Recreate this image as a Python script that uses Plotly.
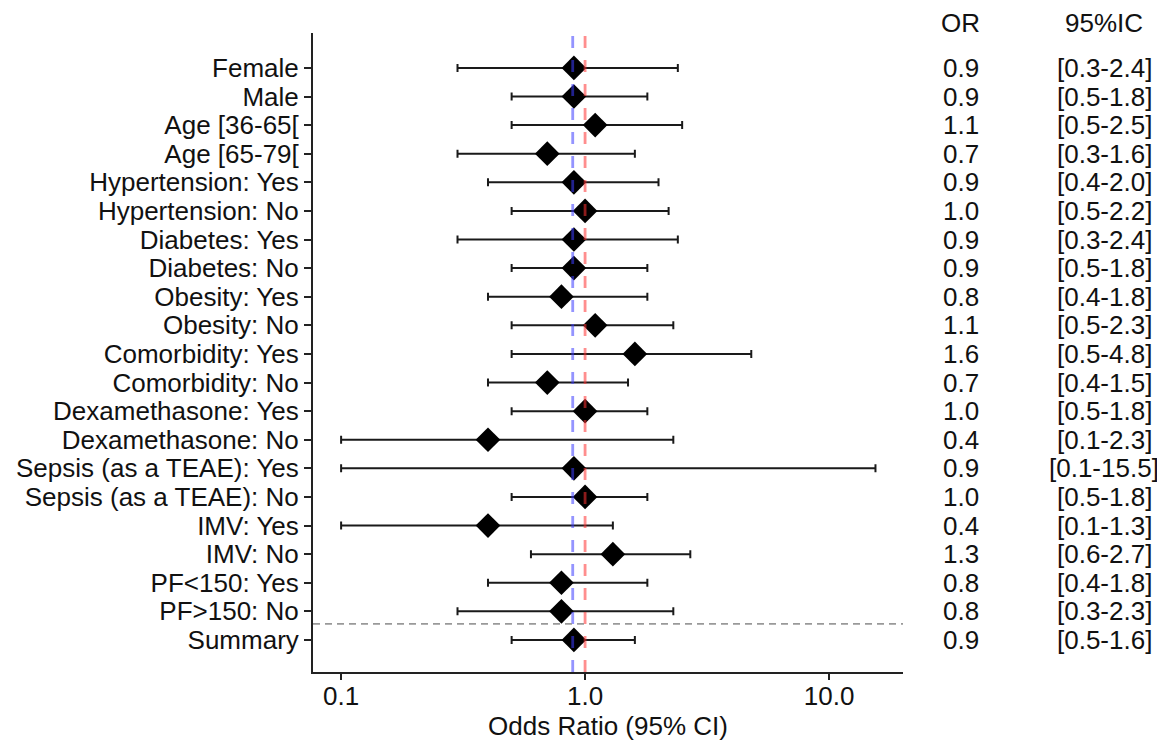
import math
import plotly.graph_objects as go

labels = ["Female", "Male", "Age [36-65[", "Age [65-79[", "Hypertension: Yes",
          "Hypertension: No", "Diabetes: Yes", "Diabetes: No", "Obesity: Yes",
          "Obesity: No", "Comorbidity: Yes", "Comorbidity: No", "Dexamethasone: Yes",
          "Dexamethasone: No", "Sepsis (as a TEAE): Yes", "Sepsis (as a TEAE): No",
          "IMV: Yes", "IMV: No", "PF<150: Yes", "PF>150: No", "Summary"]
odds = [0.9, 0.9, 1.1, 0.7, 0.9, 1.0, 0.9, 0.9, 0.8, 1.1, 1.6, 0.7, 1.0, 0.4,
        0.9, 1.0, 0.4, 1.3, 0.8, 0.8, 0.9]
lower = [0.3, 0.5, 0.5, 0.3, 0.4, 0.5, 0.3, 0.5, 0.4, 0.5, 0.5, 0.4, 0.5, 0.1,
         0.1, 0.5, 0.1, 0.6, 0.4, 0.3, 0.5]
upper = [2.4, 1.8, 2.5, 1.6, 2.0, 2.2, 2.4, 1.8, 1.8, 2.3, 4.8, 1.5, 1.8, 2.3,
         15.5, 1.8, 1.3, 2.7, 1.8, 2.3, 1.6]
or_text = ["0.9", "0.9", "1.1", "0.7", "0.9", "1.0", "0.9", "0.9", "0.8", "1.1",
           "1.6", "0.7", "1.0", "0.4", "0.9", "1.0", "0.4", "1.3", "0.8", "0.8", "0.9"]
ci_text = ["[0.3-2.4]", "[0.5-1.8]", "[0.5-2.5]", "[0.3-1.6]", "[0.4-2.0]",
           "[0.5-2.2]", "[0.3-2.4]", "[0.5-1.8]", "[0.4-1.8]", "[0.5-2.3]",
           "[0.5-4.8]", "[0.4-1.5]", "[0.5-1.8]", "[0.1-2.3]", "[0.1-15.5]",
           "[0.5-1.8]", "[0.1-1.3]", "[0.6-2.7]", "[0.4-1.8]", "[0.3-2.3]", "[0.5-1.6]"]
x_ticks = [0.1, 1.0, 10.0]
x_ticktext = ["0.1", "1.0", "10.0"]
summary_line = 0.89
null_line = 1.0

FONT = "Liberation Sans, Arial, sans-serif"
TXT = "#111111"
FS = 26

ypos = list(range(len(labels)))

fig = go.Figure()
fig.add_trace(go.Scatter(
    x=odds, y=ypos, mode="markers",
    marker=dict(symbol="diamond", size=19, color="black"),
    error_x=dict(type="data", symmetric=False,
                 array=[u - o for u, o in zip(upper, odds)],
                 arrayminus=[o - l for o, l in zip(odds, lower)],
                 color="#1a1a1a", thickness=2, width=4),
    showlegend=False, hoverinfo="skip"))

shapes = [
    dict(type="line", xref="x", yref="paper", x0=summary_line, x1=summary_line,
         y0=0, y1=1, line=dict(color="rgba(60,60,255,0.55)", width=2.8, dash="12px,12px"),
         layer="above"),
    dict(type="line", xref="x", yref="paper", x0=null_line, x1=null_line,
         y0=0, y1=1, line=dict(color="rgba(255,50,50,0.55)", width=2.8, dash="12px,12px"),
         layer="above"),
    dict(type="line", xref="paper", yref="y", x0=0, x1=1, y0=19.44, y1=19.44,
         line=dict(color="#999999", width=1.8, dash="7px,5px"), layer="above"),
]

annotations = []
OR_X = 1.098
CI_X = 1.3407
for i in ypos:
    annotations.append(dict(x=OR_X, y=i, xref="paper", yref="y", text=or_text[i],
                            showarrow=False, xanchor="center", yanchor="middle",
                            font=dict(family=FONT, size=FS, color=TXT)))
    annotations.append(dict(x=CI_X, y=i, xref="paper", yref="y", text=ci_text[i],
                            showarrow=False, xanchor="center", yanchor="middle",
                            font=dict(family=FONT, size=FS, color=TXT)))
annotations.append(dict(x=OR_X, y=1.0156, xref="paper", yref="paper", text="OR",
                        showarrow=False, xanchor="center", yanchor="middle",
                        font=dict(family=FONT, size=FS, color=TXT)))
annotations.append(dict(x=CI_X, y=1.0156, xref="paper", yref="paper", text="95%IC",
                        showarrow=False, xanchor="center", yanchor="middle",
                        font=dict(family=FONT, size=FS, color=TXT)))

# page body has an 8px margin, so the figure is 8px smaller and margins shifted
fig.update_layout(
    width=1157, height=739,
    margin=dict(l=305, r=262, t=25, b=75, pad=0, autoexpand=False),
    paper_bgcolor="white", plot_bgcolor="white",
    font=dict(family=FONT, size=FS, color=TXT),
    shapes=shapes, annotations=annotations,
    xaxis=dict(type="log", range=[math.log10(0.0767), math.log10(20.1)],
               tickvals=x_ticks, ticktext=x_ticktext, showgrid=False, zeroline=False,
               showline=True, linecolor="#222222", linewidth=2, automargin=False,
               ticks="outside", ticklen=6, tickwidth=2, tickcolor="#222222",
               ticklabelstandoff=-6,
               tickfont=dict(family=FONT, size=FS, color=TXT),
               title=dict(text="Odds Ratio (95% CI)", standoff=6,
                          font=dict(family=FONT, size=FS, color=TXT))),
    yaxis=dict(range=[21.12, -1.22], tickvals=ypos, ticktext=labels,
               showgrid=False, zeroline=False, automargin=False,
               showline=True, linecolor="#222222", linewidth=2,
               ticks="outside", ticklen=7, tickwidth=2, tickcolor="#222222",
               tickfont=dict(family=FONT, size=FS, color=TXT)),
)

fig.write_html("out.html")
